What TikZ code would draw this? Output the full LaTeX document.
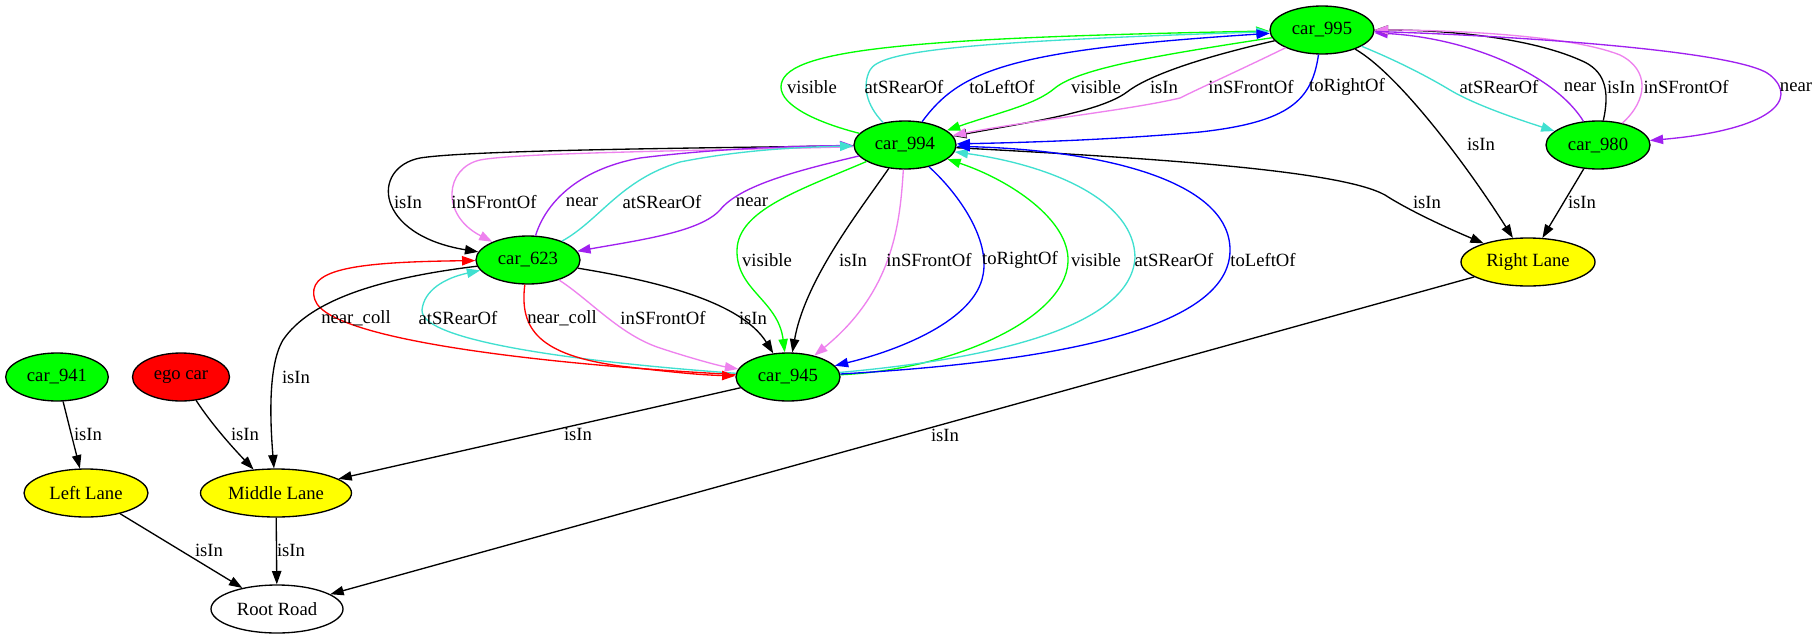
\documentclass[tikz,border=0pt]{standalone}
\usepackage{fontspec}
\setmainfont{Liberation Serif}
\usetikzlibrary{shapes.geometric,arrows.meta}
\definecolor{gvgreen}{HTML}{00FF00}
\definecolor{gvturq}{HTML}{40E0D0}
\definecolor{gvviolet}{HTML}{EE82EE}
\definecolor{gvpurple}{HTML}{A020F0}
\definecolor{gvblue}{HTML}{0000FF}
\definecolor{gvred}{HTML}{FF0000}
\definecolor{gvyellow}{HTML}{FFFF00}
\begin{document}
\begin{tikzpicture}[x=0.75pt,y=-0.75pt,
 nd/.style={ellipse,draw=black,line width=1pt,inner sep=0pt,minimum height=36pt,font=\fontsize{14pt}{16pt}\selectfont},
 car/.style={nd,fill=gvgreen},
 lane/.style={nd,fill=gvyellow},
 lbl/.style={inner sep=0pt,font=\fontsize{14pt}{16pt}\selectfont},
 ed/.style={line width=1pt,-{Triangle[length=10pt,width=7pt]}},
]
\useasboundingbox (0,0) rectangle (1819,639);
\fill[white] (0,0) rectangle (1819,639);

% nodes
\node[car,minimum width=78pt] (c995) at (1322,30) {car\_995};
\node[car,minimum width=76.5pt] (c994) at (905,145) {car\_994};
\node[car,minimum width=78pt] (c980) at (1598,145) {car\_980};
\node[car,minimum width=78pt] (c623) at (528,260) {car\_623};
\node[lane,minimum width=100.5pt] (rlane) at (1528,262) {Right Lane};
\node[car,minimum width=78pt] (c945) at (788,377) {car\_945};
\node[car,minimum width=77pt] (c941) at (57,377) {car\_941};
\node[nd,fill=gvred,minimum width=72.75pt] (ego) at (181,377) {ego car};
\node[lane,minimum width=93pt] (llane) at (86,493) {Left Lane};
\node[lane,minimum width=113.25pt] (mlane) at (276,493) {Middle Lane};
\node[nd,fill=white,minimum width=99pt] (root) at (277,609) {Root Road};

% car_994 <-> car_995
\draw[ed,gvgreen] (c994) .. controls (815,122) and (781,105) .. (781,87) .. controls (781,50) and (900,38) .. (c995);
\draw[ed,gvturq] (c994) .. controls (866,105) and (862,85) .. (870,70) .. controls (880,52) and (950,42) .. (c995);
\draw[ed,gvblue] (c994) .. controls (960,70) and (1010,50) .. (c995);
\draw[ed,gvgreen] (c995) .. controls (1160,55) and (1080,68) .. (1055,88) .. controls (1035,105) and (1000,112) .. (c994);
\draw[ed,black] (c995) .. controls (1190,60) and (1145,78) .. (1127,92) .. controls (1100,112) and (1030,122) .. (c994);
\draw[ed,gvviolet] (c995) .. controls (1240,70) and (1200,88) .. (1180,98) .. controls (1130,110) and (1020,122) .. (c994);
\draw[ed,gvblue] (c995) .. controls (1312,100) and (1290,122) .. (1200,132) .. controls (1100,141) and (1000,143) .. (c994);

% car_995 <-> car_980
\draw[ed,gvturq] (c995) .. controls (1400,62) and (1430,78) .. (1450,90) .. controls (1475,105) and (1520,120) .. (c980);
\draw[ed,gvpurple] (c980) .. controls (1555,75) and (1470,38) .. (c995);
\draw[ed,black] (c980) .. controls (1610,90) and (1605,70) .. (1580,60) .. controls (1530,38) and (1450,30) .. (c995);
\draw[ed,gvviolet] (c980) .. controls (1648,100) and (1650,70) .. (1620,55) .. controls (1570,35) and (1450,30) .. (c995);
\draw[ed,gvpurple] (c995) .. controls (1500,35) and (1740,50) .. (1770,75) .. controls (1800,100) and (1770,130) .. (c980);

% to Right Lane
\draw[ed] (c995) .. controls (1400,75) and (1470,170) .. (rlane);
\draw[ed] (c980) -- (rlane);
\draw[ed] (c994) .. controls (1150,158) and (1340,170) .. (1385,195) .. controls (1405,208) and (1440,225) .. (rlane);

% car_994 <-> car_623
\draw[ed] (c994) .. controls (700,148) and (470,150) .. (420,158) .. controls (370,168) and (375,235) .. (c623);
\draw[ed,gvviolet] (c994) .. controls (750,150) and (520,152) .. (480,160) .. controls (445,168) and (440,215) .. (c623);
\draw[ed,gvpurple] (c623) .. controls (545,205) and (575,170) .. (640,158) .. controls (720,148) and (800,146) .. (c994);
\draw[ed,gvturq] (c623) .. controls (600,220) and (620,180) .. (680,162) .. controls (740,150) and (800,147) .. (c994);
\draw[ed,gvpurple] (c994) .. controls (800,170) and (740,185) .. (720,210) .. controls (700,232) and (640,240) .. (c623);

% car_994 <-> car_945
\draw[ed,gvgreen] (c994) .. controls (800,190) and (738,210) .. (737,250) .. controls (736,290) and (778,300) .. (c945);
\draw[ed] (c994) .. controls (860,210) and (805,280) .. (c945);
\draw[ed,gvviolet] (c994) .. controls (900,220) and (895,290) .. (c945);
\draw[ed,gvblue] (c994) .. controls (960,195) and (990,240) .. (983,275) .. controls (975,320) and (900,350) .. (c945);
\draw[ed,gvgreen] (c945) .. controls (950,370) and (1065,320) .. (1068,262) .. controls (1070,220) and (1010,180) .. (c994);
\draw[ed,gvturq] (c945) .. controls (980,360) and (1130,330) .. (1135,258) .. controls (1135,200) and (1050,165) .. (c994);
\draw[ed,gvblue] (c945) .. controls (1050,362) and (1230,330) .. (1230,250) .. controls (1230,180) and (1100,150) .. (c994);

% car_623 <-> car_945
\draw[ed,gvred] (c945) .. controls (600,368) and (330,345) .. (315,300) .. controls (305,270) and (350,262) .. (c623);
\draw[ed,gvturq] (c945) .. controls (620,365) and (420,345) .. (422,310) .. controls (424,290) and (445,278) .. (c623);
\draw[ed,gvred] (c623) .. controls (519,330) and (540,355) .. (620,366) .. controls (670,372) and (700,375) .. (c945);
\draw[ed,gvviolet] (c623) .. controls (590,300) and (620,335) .. (660,348) .. controls (690,358) and (720,366) .. (c945);
\draw[ed] (c623) .. controls (650,280) and (740,300) .. (c945);

% lanes and road
\draw[ed] (c623) .. controls (380,278) and (310,300) .. (283,340) .. controls (268,365) and (270,420) .. (mlane);
\draw[ed] (c945) -- (mlane);
\draw[ed] (rlane) -- (root);
\draw[ed] (c941) -- (llane);
\draw[ed] (ego) .. controls (212,425) and (235,450) .. (mlane);
\draw[ed] (llane) -- (root);
\draw[ed] (mlane) -- (root);

% labels
\node[lbl] (t01) at (812,87) {visible};
\node[lbl] (t02) at (904,87) {atSRearOf};
\node[lbl] (t03) at (1002,87) {toLeftOf};
\node[lbl] (t04) at (1096,87) {visible};
\node[lbl] (t05) at (1164,87) {isIn};
\node[lbl] (t06) at (1251,87) {inSFrontOf};
\node[lbl] (t07) at (1347,87) {toRightOf};
\node[lbl] (t08) at (1499,87) {atSRearOf};
\node[lbl] (t09) at (1580,87) {near};
\node[lbl] (t10) at (1621,87) {isIn};
\node[lbl] (t11) at (1686,87) {inSFrontOf};
\node[lbl] (t12) at (1796,87) {near};
\node[lbl] (t13) at (1481,144) {isIn};
\node[lbl] (t14) at (1582,202) {isIn};
\node[lbl] (t15) at (1427,202) {isIn};
\node[lbl] (t16) at (408,202) {isIn};
\node[lbl] (t17) at (494,202) {inSFrontOf};
\node[lbl] (t18) at (582,202) {near};
\node[lbl] (t19) at (662,202) {atSRearOf};
\node[lbl] (t20) at (752,202) {near};
\node[lbl] (t21) at (767,260) {visible};
\node[lbl] (t22) at (853,260) {isIn};
\node[lbl] (t23) at (929,260) {inSFrontOf};
\node[lbl] (t24) at (1020,260) {toRightOf};
\node[lbl] (t25) at (1096,260) {visible};
\node[lbl] (t26) at (1174,260) {atSRearOf};
\node[lbl] (t27) at (1263,260) {toLeftOf};
\node[lbl] (t28) at (356,318) {near\_coll};
\node[lbl] (t29) at (458,318) {atSRearOf};
\node[lbl] (t30) at (562,318) {near\_coll};
\node[lbl] (t31) at (663,318) {inSFrontOf};
\node[lbl] (t32) at (753,318) {isIn};
\node[lbl] (t33) at (296,377) {isIn};
\node[lbl] (t34) at (88,434) {isIn};
\node[lbl] (t35) at (245,434) {isIn};
\node[lbl] (t36) at (578,434) {isIn};
\node[lbl] (t37) at (945,435) {isIn};
\node[lbl] (t38) at (209,550) {isIn};
\node[lbl] (t39) at (291,550) {isIn};
\end{tikzpicture}
\end{document}
